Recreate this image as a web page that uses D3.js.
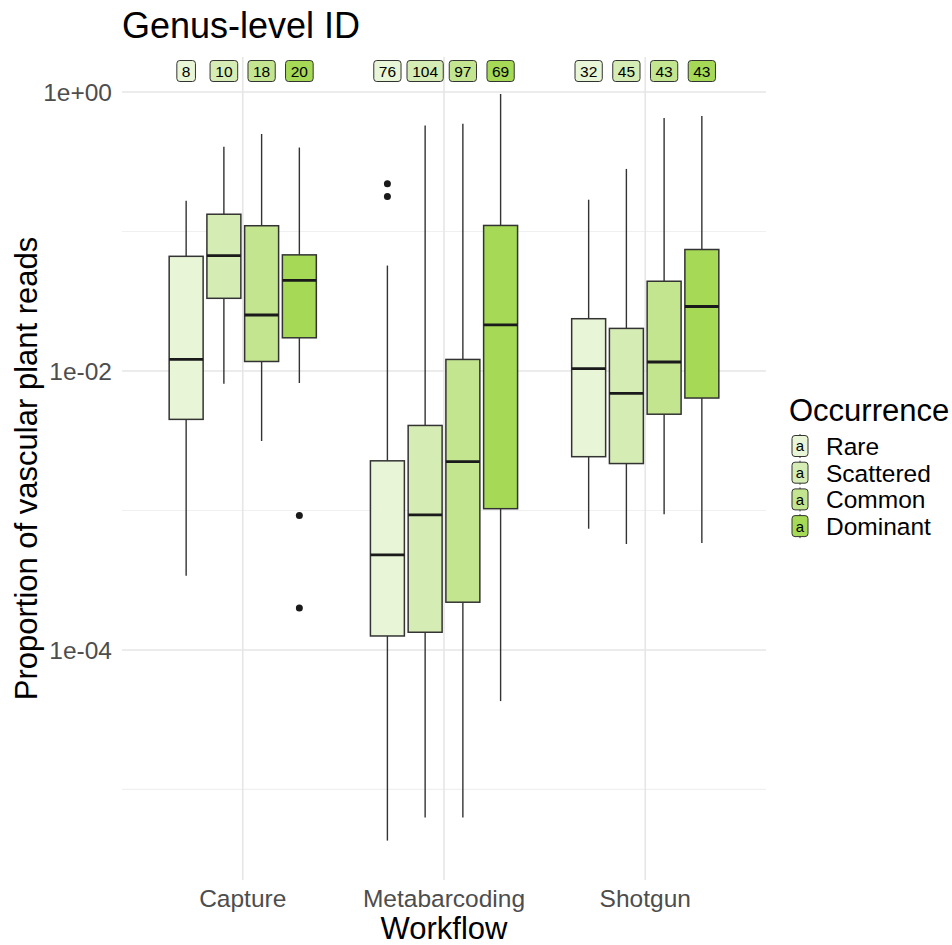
<!DOCTYPE html>
<html>
<head>
<meta charset="utf-8">
<script src="https://cdn.jsdelivr.net/npm/d3@7"></script>
<style>
  body { margin: 0; background: #fff; }
  text { font-family: "Liberation Sans", Arial, sans-serif; }
</style>
</head>
<body>
<div id="chart"></div>
<script>
const workflows = ["Capture", "Metabarcoding", "Shotgun"];
const occurrences = ["Rare", "Scattered", "Common", "Dominant"];
const occurrenceColors = ["#e8f5d6", "#d6ecb5", "#c4e590", "#a5d956"];
const yTicks = [1e0, 1e-2, 1e-4];
const yMinorTicks = [1e-1, 1e-3, 1e-5];

// sample sizes shown above each box
const counts = [
  [8, 10, 18, 20],
  [76, 104, 97, 69],
  [32, 45, 43, 43],
];

// box stats, workflow by occurrence
const whiskerLow = [
  [3.4e-4, 8.1e-3, 3.15e-3, 8.2e-3],
  [4.3e-6, 6.3e-6, 6.3e-6, 4.3e-5],
  [7.4e-4, 5.75e-4, 9.4e-4, 5.85e-4],
];
const q1 = [
  [4.5e-3, 0.0332, 0.0117, 0.0173],
  [1.26e-4, 1.34e-4, 2.2e-4, 1.03e-3],
  [2.43e-3, 2.17e-3, 4.9e-3, 6.4e-3],
];
const median = [
  [0.0121, 0.0671, 0.0252, 0.0447],
  [4.8e-4, 9.3e-4, 2.24e-3, 0.0214],
  [0.0104, 6.9e-3, 0.0116, 0.029],
];
const q3 = [
  [0.0664, 0.133, 0.110, 0.068],
  [2.27e-3, 4.07e-3, 0.0121, 0.1105],
  [0.0237, 0.0202, 0.044, 0.0743],
];
const whiskerHigh = [
  [0.166, 0.405, 0.50, 0.40],
  [0.057, 0.575, 0.593, 0.968],
  [0.169, 0.281, 0.651, 0.673],
];
const outliers = [
  {workflow: "Capture", occurrence: "Dominant", values: [9.2e-4, 2.0e-4]},
  {workflow: "Metabarcoding", occurrence: "Rare", values: [0.220, 0.178]},
];

const width = 952, height = 945;
const panel = {left: 122, right: 766, top: 57, bottom: 880};

const svg = d3.select("#chart").append("svg")
  .attr("width", width)
  .attr("height", height);

const x = d3.scalePoint()
  .domain(workflows)
  .range([panel.left, panel.right])
  .padding(0.6);

const dodge = d3.scaleBand()
  .domain(occurrences)
  .range([-0.375 * x.step(), 0.375 * x.step()]);

const boxWidth = dodge.bandwidth() * 0.9;

const y = d3.scaleLog()
  .domain([Math.pow(10, -5.649), Math.pow(10, 0.251)])
  .range([panel.bottom, panel.top]);

const color = d3.scaleOrdinal().domain(occurrences).range(occurrenceColors);

// grid
const grid = svg.append("g");
grid.selectAll(".minor")
  .data(yMinorTicks)
  .enter().append("line")
    .attr("x1", panel.left).attr("x2", panel.right)
    .attr("y1", d => y(d)).attr("y2", d => y(d))
    .attr("stroke", "#f0f0f0")
    .attr("stroke-width", 1.2);
grid.selectAll(".major")
  .data(yTicks)
  .enter().append("line")
    .attr("x1", panel.left).attr("x2", panel.right)
    .attr("y1", d => y(d)).attr("y2", d => y(d))
    .attr("stroke", "#e6e6e6")
    .attr("stroke-width", 1.6);
grid.selectAll(".vmajor")
  .data(workflows)
  .enter().append("line")
    .attr("x1", d => x(d)).attr("x2", d => x(d))
    .attr("y1", panel.top).attr("y2", panel.bottom)
    .attr("stroke", "#e6e6e6")
    .attr("stroke-width", 1.6);

// flatten stats
const boxes = [];
workflows.forEach((w, i) => {
  occurrences.forEach((o, j) => {
    boxes.push({
      workflow: w, occurrence: o, n: counts[i][j],
      lo: whiskerLow[i][j], q1: q1[i][j], med: median[i][j],
      q3: q3[i][j], hi: whiskerHigh[i][j],
      cx: x(w) + dodge(o) + dodge.bandwidth() / 2,
    });
  });
});

const boxG = svg.append("g").selectAll("g")
  .data(boxes)
  .enter().append("g");

boxG.append("line")
  .attr("x1", d => d.cx).attr("x2", d => d.cx)
  .attr("y1", d => y(d.q3)).attr("y2", d => y(d.hi))
  .attr("stroke", "#333").attr("stroke-width", 1.4);
boxG.append("line")
  .attr("x1", d => d.cx).attr("x2", d => d.cx)
  .attr("y1", d => y(d.q1)).attr("y2", d => y(d.lo))
  .attr("stroke", "#333").attr("stroke-width", 1.4);
boxG.append("rect")
  .attr("x", d => d.cx - boxWidth / 2)
  .attr("width", boxWidth)
  .attr("y", d => y(d.q3))
  .attr("height", d => y(d.q1) - y(d.q3))
  .attr("fill", d => color(d.occurrence))
  .attr("stroke", "#333")
  .attr("stroke-width", 1.5);
boxG.append("line")
  .attr("x1", d => d.cx - boxWidth / 2).attr("x2", d => d.cx + boxWidth / 2)
  .attr("y1", d => y(d.med)).attr("y2", d => y(d.med))
  .attr("stroke", "#1a1a1a").attr("stroke-width", 2.8);

// outlier points
const pts = [];
outliers.forEach(o => o.values.forEach(v => pts.push({
  cx: x(o.workflow) + dodge(o.occurrence) + dodge.bandwidth() / 2, v
})));
svg.append("g").selectAll("circle")
  .data(pts)
  .enter().append("circle")
    .attr("cx", d => d.cx)
    .attr("cy", d => y(d.v))
    .attr("r", 3.5)
    .attr("fill", "#1a1a1a");

// count labels
const labelY = 71;
const labG = svg.append("g").selectAll("g")
  .data(boxes)
  .enter().append("g")
    .attr("transform", d => `translate(${d.cx},${labelY})`);
labG.append("text")
  .attr("text-anchor", "middle")
  .attr("dy", "0.36em")
  .attr("font-size", 15.5)
  .attr("fill", "#000")
  .text(d => d.n);
labG.each(function() {
  const g = d3.select(this);
  const bb = g.select("text").node().getBBox();
  g.insert("rect", "text")
    .attr("x", -bb.width / 2 - 5)
    .attr("y", -10.5)
    .attr("width", bb.width + 10)
    .attr("height", 21)
    .attr("rx", 3)
    .attr("fill", d => color(d.occurrence))
    .attr("stroke", "#333")
    .attr("stroke-width", 1);
});

// y axis labels
svg.append("g").selectAll("text")
  .data(yTicks)
  .enter().append("text")
    .attr("x", 112)
    .attr("y", d => y(d))
    .attr("dy", "0.35em")
    .attr("text-anchor", "end")
    .attr("font-size", 24.5)
    .attr("fill", "#4d4d4d")
    .text(d => d3.format(".0e")(d).replace(/e([+-])(\d)$/, "e$10$2"));

// x axis labels
svg.append("g").selectAll("text")
  .data(workflows)
  .enter().append("text")
    .attr("x", d => x(d))
    .attr("y", 907)
    .attr("text-anchor", "middle")
    .attr("font-size", 24.5)
    .attr("fill", "#4d4d4d")
    .text(d => d);

svg.append("text")
  .attr("x", (panel.left + panel.right) / 2)
  .attr("y", 939)
  .attr("text-anchor", "middle")
  .attr("font-size", 31)
  .attr("fill", "#000")
  .text("Workflow");

svg.append("text")
  .attr("transform", `translate(37,${(panel.top + panel.bottom) / 2}) rotate(-90)`)
  .attr("text-anchor", "middle")
  .attr("font-size", 31)
  .attr("fill", "#000")
  .text("Proportion of vascular plant reads");

svg.append("text")
  .attr("x", 122)
  .attr("y", 38)
  .attr("font-size", 36)
  .attr("fill", "#000")
  .text("Genus-level ID");

// legend
const legend = svg.append("g").attr("transform", "translate(789,0)");
legend.append("text")
  .attr("x", 0)
  .attr("y", 421)
  .attr("font-size", 31)
  .attr("fill", "#000")
  .text("Occurrence");

const keys = legend.selectAll(".key")
  .data(occurrences)
  .enter().append("g")
    .attr("transform", (d, i) => `translate(11,${446 + i * 26.7})`);
keys.append("line")
  .attr("y1", -12).attr("y2", 12)
  .attr("stroke", "#333").attr("stroke-width", 1);
keys.append("rect")
  .attr("x", -8).attr("y", -10.5)
  .attr("width", 16).attr("height", 21)
  .attr("rx", 3)
  .attr("fill", d => color(d))
  .attr("stroke", "#333")
  .attr("stroke-width", 1);
keys.append("text")
  .attr("text-anchor", "middle")
  .attr("dy", "0.36em")
  .attr("font-size", 15)
  .attr("fill", "#000")
  .text("a");
keys.append("text")
  .attr("x", 26)
  .attr("dy", "0.36em")
  .attr("font-size", 24.5)
  .attr("fill", "#000")
  .text(d => d);
</script>
</body>
</html>
